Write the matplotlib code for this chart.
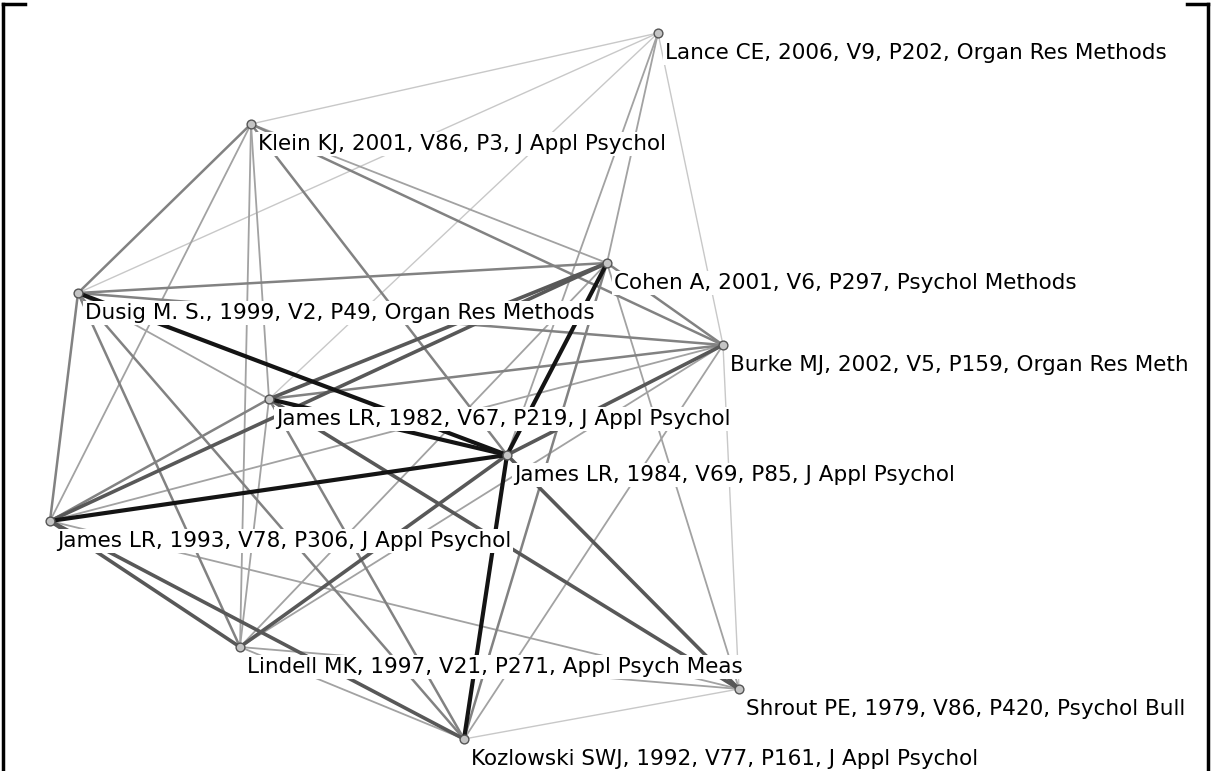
import matplotlib
matplotlib.use("Agg")
import matplotlib.pyplot as plt

# Nodes of the co-citation network (layout positions, pixel space of the original)
names = [
    "Lance CE, 2006, V9, P202, Organ Res Methods",
    "Klein KJ, 2001, V86, P3, J Appl Psychol",
    "Cohen A, 2001, V6, P297, Psychol Methods",
    "Dusig M. S., 1999, V2, P49, Organ Res Methods",
    "Burke MJ, 2002, V5, P159, Organ Res Meth",
    "James LR, 1982, V67, P219, J Appl Psychol",
    "James LR, 1984, V69, P85, J Appl Psychol",
    "James LR, 1993, V78, P306, J Appl Psychol",
    "Lindell MK, 1997, V21, P271, Appl Psych Meas",
    "Shrout PE, 1979, V86, P420, Psychol Bull",
    "Kozlowski SWJ, 1992, V77, P161, J Appl Psychol",
]
node_x = [658, 251, 607, 78, 723, 269, 507, 50, 240, 739, 464]
node_y = [33, 124, 263, 293, 345, 399, 455, 521, 647, 689, 739]

# Links: source, target, strength (1 weak ... 5 strong)
src = [0, 0, 0, 0, 0, 0,
       1, 1, 1, 1, 1, 1, 1,
       3, 3, 3, 3, 3, 3, 3,
       2, 2, 2, 2, 2, 2, 2,
       5, 5, 5, 5, 5, 5,
       6, 6, 6, 6, 6,
       7, 7, 7, 7,
       8, 8, 8,
       10, 10, 4]
dst = [1, 3, 5, 6, 2, 4,
       3, 7, 8, 5, 6, 2, 4,
       2, 7, 8, 10, 5, 6, 4,
       7, 5, 6, 10, 4, 9, 8,
       6, 4, 10, 9, 8, 7,
       10, 9, 4, 7, 8,
       4, 8, 10, 9,
       4, 10, 9,
       9, 4, 9]
strength = [1, 1, 1, 2, 2, 1,
            3, 2, 2, 2, 3, 2, 3,
            3, 3, 3, 3, 2, 5, 3,
            4, 4, 5, 3, 3, 2, 2,
            5, 3, 3, 4, 2, 3,
            5, 4, 4, 5, 4,
            2, 4, 4, 2,
            2, 2, 2,
            1, 2, 1]

edge_color = {1: "#c8c8c8", 2: "#a2a2a2", 3: "#828282", 4: "#585858", 5: "#141414"}
edge_width = {1: 1.0, 2: 1.3, 3: 1.8, 4: 2.6, 5: 3.0}

fig = plt.figure(figsize=(12.12, 7.71), dpi=100)
ax = fig.add_axes([0, 0, 1, 1])
ax.set_xlim(0, 1212)
ax.set_ylim(771, 0)
ax.axis("off")

order = sorted(range(len(src)), key=lambda k: strength[k])
for k in order:
    a, b, s = src[k], dst[k], strength[k]
    ax.plot([node_x[a], node_x[b]], [node_y[a], node_y[b]],
            color=edge_color[s], lw=edge_width[s], solid_capstyle="round", zorder=1 + s * 0.1)

for name, x, y in zip(names, node_x, node_y):
    ax.text(x + 7, y + 26, name, fontsize=15.5, family="DejaVu Sans",
            ha="left", va="baseline", color="black", zorder=3,
            bbox=dict(facecolor="white", edgecolor="none", pad=1.5))

ax.scatter(node_x, node_y, s=40, facecolor="#c4c4c4", edgecolor="#555555",
           linewidth=1.0, zorder=4)

# frame corners of the original panel
ax.plot([3, 3], [771, 4], color="black", lw=2.5, zorder=5)
ax.plot([3, 25], [4, 4], color="black", lw=2.5, zorder=5)
ax.plot([1208, 1208], [771, 4], color="black", lw=2.5, zorder=5)
ax.plot([1187, 1208], [4, 4], color="black", lw=2.5, zorder=5)

fig.savefig("out.png", dpi=100)
